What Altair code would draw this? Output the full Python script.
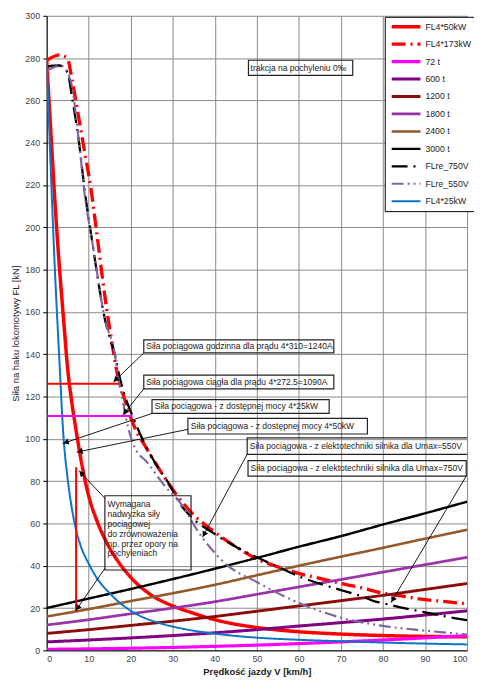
import math
import altair as alt
import pandas as pd

FONT = "Liberation Sans"

# ---------------- data ----------------
series_names = ["FL4*50kW", "FL4*173kW", "72 t", "600 t", "1200 t", "1800 t",
                "2400 t", "3000 t", "FLre_750V", "FLre_550V", "FL4*25kW"]
series_colors = ["#ff0000", "#ff0000", "#ff00ff", "#800080", "#8c0a0a", "#9933a8",
                 "#94582a", "#000000", "#000000", "#8064a2", "#0a74c8"]
series_dash = [[1, 0], [14, 5, 2, 5], [1, 0], [1, 0], [1, 0], [1, 0],
               [1, 0], [1, 0], [16, 6, 2, 6], [12, 4, 2, 4, 2, 4], [1, 0]]
series_width = [3.5, 2, 2, 2, 2, 2, 2, 2, 2.5, 2.2, 2]

# FL4*50kW (thick red)
v_50 = [0, 1, 2, 3, 4, 5, 6, 7, 8, 10, 12, 14, 17, 20, 25, 30, 35, 40, 50, 60, 70, 80, 90, 100]
f_50 = [279, 245, 211, 182, 157, 133, 117, 104, 92, 73, 61, 52, 42, 34.5, 26, 21, 17.5, 14.5,
        10.8, 8.8, 7.7, 7.0, 6.6, 6.4]

# FL4*25kW (blue)
v_25 = [0, 1, 2, 3, 4, 5, 6, 7, 8, 10, 12, 15, 18, 22, 27, 33, 40, 50, 60, 70, 80, 90, 100]
f_25 = [279, 226, 178, 138, 101, 81, 67, 57, 50, 41, 34, 27, 21.5, 16.5, 12.8, 10, 7.9, 6,
        5, 4.3, 3.7, 3.2, 2.8]

# FL4*173kW (red dash-dot)
v_173 = [0, 2, 3, 4.9, 6.1, 7.7, 9, 10.4, 12, 13.8, 15, 16.9, 18.5, 20.8, 23.9, 27, 30.9, 35,
         38.6, 45, 49.8, 55, 59.9, 65, 69.7, 75, 79.6, 85, 89.6, 95, 100]
f_173 = [279, 281, 281.5, 280, 269, 251, 236, 220, 196, 168, 152, 130, 119, 106, 95, 85, 73.5,
         64, 58, 49, 43.4, 39.5, 36.4, 34, 31.8, 29.5, 27.2, 25.5, 24.1, 23, 22]

# FLre_750V (black dashed)
v_750 = [0, 3, 5, 6, 7.7, 9.2, 10.7, 12, 13.8, 15, 16.2, 17.5, 18.5, 20.8, 23, 26, 29, 32, 35,
         40, 45, 50, 55, 60, 65, 70, 75, 78, 80, 85, 90, 95, 100]
f_750 = [276, 276.5, 273, 262, 240, 215, 195, 178, 157, 148, 140, 128, 121, 109, 99, 88, 79,
         68.5, 62, 55, 49, 44, 39.5, 35, 31.5, 28.5, 25.5, 23.2, 22.3, 20, 18, 16, 14.3]

# FLre_550V (purple dash-dot-dot)
v_550 = [0, 3.4, 5.7, 7.7, 9.2, 10.7, 13.8, 16.2, 16.9, 18.1, 19.3, 20.8, 23.9, 29.3, 30.9, 37,
         42.5, 49.8, 59.9, 69.7, 79.6, 89.6, 100]
f_550 = [274, 276.4, 269.4, 240, 213, 195, 157, 140, 130.5, 118, 106, 96.6, 88.9, 75, 71.9,
         53.4, 41, 32.5, 22.5, 15.6, 11.7, 9.4, 7.5]

# train resistance lines, read every 10 km/h
v_res = [0, 10, 20, 30, 40, 50, 60, 70, 80, 90, 100]
r_72 = [0.5, 0.7, 1.0, 1.4, 1.9, 2.5, 3.2, 4.0, 4.9, 5.9, 7.0]
r_600 = [4.0, 4.9, 5.9, 7.0, 8.3, 9.8, 11.5, 13.1, 14.8, 16.7, 18.7]
r_1200 = [8.0, 9.8, 11.8, 13.8, 16.0, 18.5, 21.0, 23.5, 26.0, 28.8, 31.6]
r_1800 = [12.0, 14.5, 17.3, 20.0, 23.0, 26.5, 30.0, 33.5, 37.0, 40.5, 44.0]
r_2400 = [16.0, 19.5, 23.3, 27.0, 31.0, 35.5, 40.0, 44.3, 48.5, 52.8, 57.0]
r_3000 = [20.0, 24.5, 29.0, 33.7, 38.6, 43.7, 49.0, 54.0, 59.5, 64.8, 70.3]

# helper lines (no legend entry)
red_seg = ["hour", "hour", "need", "need"]
red_v = [0, 17.3, 7.0, 7.0]
red_f = [126, 126, 18.2, 86.6]
mag_v = [0, 20.4]
mag_f = [110.8, 110.8]

# annotation boxes (data units) and texts
box_x1 = [48.0, 23.1, 23.1, 25.06, 33.6, 47.7, 47.9, 13.85]
box_x2 = [72.8, 68.3, 68.3, 67.2, 76.3, 100.7, 99.8, 34.34]
box_y1 = [279.0, 146.8, 130.1, 118.5, 109.7, 100.5, 89.7, 73.1]
box_y2 = [271.8, 140.6, 123.6, 112.0, 102.3, 92.7, 82.4, 38.0]
txt = ["trakcja  na  pochyleniu  0‰",
       "Siła pociągowa godzinna dla prądu 4*310=1240A",
       "Siła pociągowa ciągła dla prądu 4*272.5=1090A",
       "Siła pociągowa  - z dostępnej mocy 4*25kW",
       "Siła pociągowa  - z dostępnej mocy 4*50kW",
       "Siła pociągowa - z elektotechniki  silnika dla Umax=550V",
       "Siła pociągowa - z elektotechniki  silnika dla Umax=750V",
       "Wymagana", "nadwyżka siły", "pociągowej", "do zrównoważenia",
       "np. przez opory na", "pochyleniach"]
txt_x = [48.5, 23.7, 23.7, 25.7, 34.3, 48.3, 48.5] + [14.45] * 6
txt_y = [275.4, 143.7, 126.9, 115.3, 106.0, 96.6, 86.1, 69.0, 64.4, 59.7, 55.1, 50.5, 45.8]

# arrows: from -> tip
arr_x1 = [23.1, 23.1, 25.06, 33.6, 47.7, 99.8, 13.85, 13.85]
arr_y1 = [140.6, 123.6, 112.0, 104.5, 92.7, 82.4, 71.9, 38.75]
arr_x2 = [15.8, 18.1, 3.8, 7.1, 37.05, 81.9, 7.66, 6.9]
arr_y2 = [126.7, 111.3, 97.8, 93.7, 53.4, 22.5, 85.0, 18.7]

# ---------------- build tables ----------------
W, H = 424, 640
XMAX, YMAX = 100, 300
pxv, pxf = W / XMAX, H / YMAX

rows = []
def add(name, vs, fs):
    for i, (v, f) in enumerate(zip(vs, fs)):
        rows.append({"series": name, "v": v, "F": f, "i": i})

add("FL4*50kW", v_50, f_50)
add("FL4*173kW", v_173, f_173)
add("72 t", v_res, r_72)
add("600 t", v_res, r_600)
add("1200 t", v_res, r_1200)
add("1800 t", v_res, r_1800)
add("2400 t", v_res, r_2400)
add("3000 t", v_res, r_3000)
add("FLre_750V", v_750, f_750)
add("FLre_550V", v_550, f_550)
add("FL4*25kW", v_25, f_25)
df = pd.DataFrame(rows)

red_df = pd.DataFrame({"seg": red_seg, "v": red_v, "F": red_f})
mag_df = pd.DataFrame({"v": mag_v, "F": mag_f})
box_df = pd.DataFrame({"x1": box_x1, "x2": box_x2, "y1": box_y1, "y2": box_y2})
txt_df = pd.DataFrame({"t": txt, "x": txt_x, "y": txt_y})
arr_df = pd.DataFrame({"x1": arr_x1, "y1": arr_y1, "x2": arr_x2, "y2": arr_y2})

# arrow heads
head = []
HL = 3.5  # half length in px
for a in arr_df.itertuples():
    dx = (a.x2 - a.x1) * pxv
    dy = -(a.y2 - a.y1) * pxf
    ln = math.hypot(dx, dy)
    ux, uy = dx / ln, dy / ln
    ang = math.degrees(math.atan2(ux, -uy)) % 360
    cx = a.x2 - ux * HL / pxv
    cy = a.y2 + uy * HL / pxf
    head.append({"x": cx, "y": cy, "ang": ang})
head_df = pd.DataFrame(head)

xs = alt.Scale(domain=[0, XMAX], nice=False, zero=False)
ys = alt.Scale(domain=[0, YMAX], nice=False, zero=False)

legend = alt.Legend(
    title=None, orient="none", legendX=341, legendY=1,
    fillColor="white", strokeColor="#000000", padding=5,
    symbolType="stroke", symbolSize=841, clipHeight=10,
    rowPadding=7.6, labelOffset=3,
    labelFont=FONT, labelFontSize=8.8, labelColor="#222222",
)

xax = alt.Axis(values=list(range(0, 101, 10)), title="Prędkość jazdy V [km/h]",
               grid=True, gridColor="#8a8a8a", gridWidth=1, domainColor="#000000",
               ticks=False, labelFont=FONT, labelFontSize=9,
               labelColor="#444444", labelPadding=4, titleFont=FONT, titleFontSize=9.5,
               titleFontWeight="bold", titleColor="#222222", titlePadding=3)
yax = alt.Axis(values=list(range(0, 301, 20)), title="Siła na haku lokomotywy FL [kN]",
               grid=True, gridColor="#8a8a8a", gridWidth=1, domainColor="#000000",
               tickColor="#000000", tickSize=4, labelFont=FONT, labelFontSize=9,
               labelColor="#444444", labelPadding=3, titleFont=FONT, titleFontSize=9.5,
               titleFontWeight="normal", titleColor="#222222", titlePadding=4)

main = alt.Chart(df).mark_line(interpolate="monotone", clip=True).encode(
    x=alt.X("v:Q", scale=xs, axis=xax),
    y=alt.Y("F:Q", scale=ys, axis=yax),
    color=alt.Color("series:N", scale=alt.Scale(domain=series_names, range=series_colors),
                    legend=legend, sort=series_names),
    strokeDash=alt.StrokeDash("series:N", scale=alt.Scale(domain=series_names, range=series_dash),
                              legend=legend, sort=series_names),
    strokeWidth=alt.StrokeWidth("series:N", scale=alt.Scale(domain=series_names, range=series_width),
                                legend=legend, sort=series_names),
    order="i:Q",
)

red_lines = alt.Chart(red_df).mark_line(color="#ff0000", strokeWidth=2).encode(
    x=alt.X("v:Q", scale=xs), y=alt.Y("F:Q", scale=ys), detail="seg:N")
mag_line = alt.Chart(mag_df).mark_line(color="#ff00ff", strokeWidth=2.2).encode(
    x=alt.X("v:Q", scale=xs), y=alt.Y("F:Q", scale=ys))

boxes = alt.Chart(box_df).mark_rect(fillOpacity=0, stroke="#222222", strokeWidth=1.2, clip=True).encode(
    x=alt.X("x1:Q", scale=xs), x2="x2:Q", y=alt.Y("y1:Q", scale=ys), y2="y2:Q")
texts = alt.Chart(txt_df).mark_text(align="left", baseline="middle", font=FONT, fontSize=8.6,
                                    color="#222222").encode(
    x=alt.X("x:Q", scale=xs), y=alt.Y("y:Q", scale=ys), text="t:N")
arrows = alt.Chart(arr_df).mark_rule(color="#000000", strokeWidth=0.9).encode(
    x=alt.X("x1:Q", scale=xs), y=alt.Y("y1:Q", scale=ys), x2="x2:Q", y2="y2:Q")
heads = alt.Chart(head_df).mark_point(shape="triangle-up", filled=True, size=40,
                                      color="#000000", opacity=1).encode(
    x=alt.X("x:Q", scale=xs), y=alt.Y("y:Q", scale=ys), angle=alt.Angle("ang:Q", scale=None))

chart = alt.layer(main, red_lines, mag_line, boxes, texts, arrows, heads).properties(
    width=W, height=H,
    autosize=alt.AutoSizeParams(type="none"),
    padding={"left": 39, "top": 5, "right": 7, "bottom": 25},
    background="white",
).configure_view(stroke=None)

chart.save("out.html", embed_options={"renderer": "svg", "actions": False})
